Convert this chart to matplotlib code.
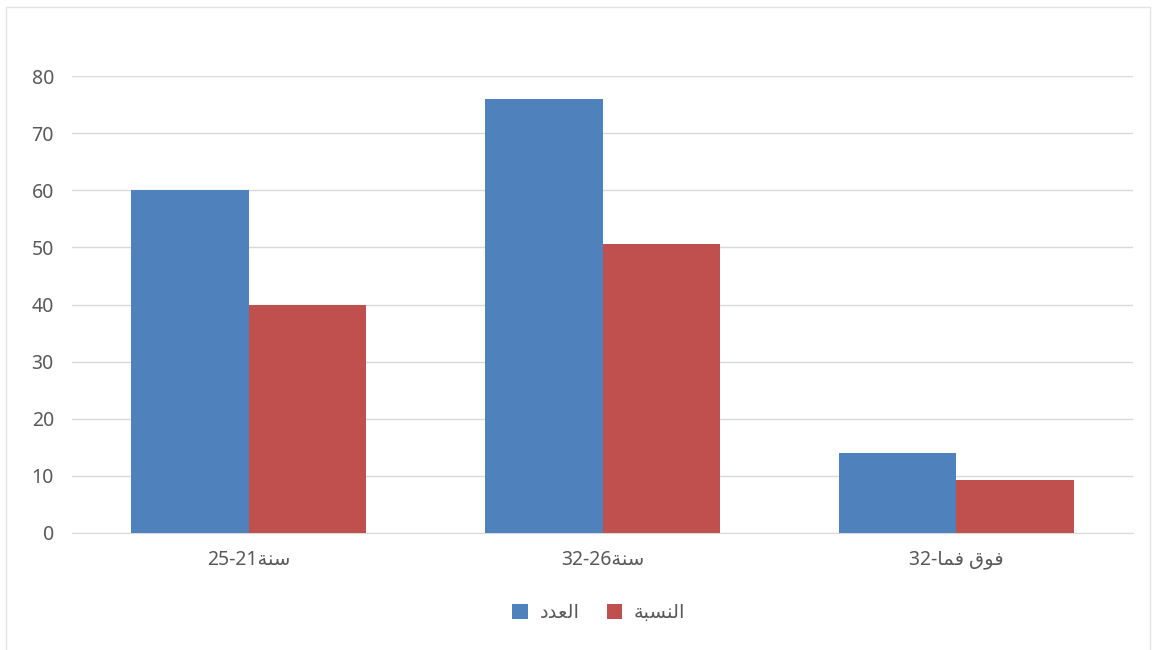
import matplotlib.pyplot as plt
import numpy as np
from matplotlib.patches import Rectangle

# Arabic letter forms: isolated, final, initial, medial (None = does not join forward)
FORMS = {
    "ا": ("\uFE8D", "\uFE8E", None, None),
    "ل": ("\uFEDD", "\uFEDE", "\uFEDF", "\uFEE0"),
    "ع": ("\uFEC9", "\uFECA", "\uFECB", "\uFECC"),
    "د": ("\uFEA9", "\uFEAA", None, None),
    "ن": ("\uFEE5", "\uFEE6", "\uFEE7", "\uFEE8"),
    "س": ("\uFEB1", "\uFEB2", "\uFEB3", "\uFEB4"),
    "ب": ("\uFE8F", "\uFE90", "\uFE91", "\uFE92"),
    "ة": ("\uFE93", "\uFE94", None, None),
    "ف": ("\uFED1", "\uFED2", "\uFED3", "\uFED4"),
    "م": ("\uFEE1", "\uFEE2", "\uFEE3", "\uFEE4"),
    "و": ("\uFEED", "\uFEEE", None, None),
    "ق": ("\uFED5", "\uFED6", "\uFED7", "\uFED8"),
}


def shape(word):
    # matplotlib has no Arabic shaping, so join letters by hand and reverse
    out = []
    for i, ch in enumerate(word):
        prev_joins = i > 0 and FORMS[word[i - 1]][2] is not None
        next_joins = i < len(word) - 1 and FORMS[ch][2] is not None
        iso, fin, ini, med = FORMS[ch]
        if prev_joins and next_joins:
            out.append(med)
        elif prev_joins:
            out.append(fin)
        elif next_joins:
            out.append(ini)
        else:
            out.append(iso)
    return "".join(reversed(out))


# data
categories = ["25-21" + shape("سنة"), "32-26" + shape("سنة"),
              "32-" + shape("فما") + " " + shape("فوق")]
series_names = [shape("العدد"), shape("النسبة")]
count = [60, 76, 14]
percent = [40, 50.67, 9.33]
yticks = [0, 10, 20, 30, 40, 50, 60, 70, 80]

blue = "#4F81BD"
red = "#C0504D"
grey = "#595959"
fonts = ["Noto Sans", "DejaVu Sans"]

fig = plt.figure(figsize=(11.53, 6.5), dpi=100)
ax = fig.add_axes([0.0624, 0.18, 0.9203, 0.703])

x = np.arange(len(categories))
w = 0.332
ax.bar(x - w / 2, count, w, color=blue, label=series_names[0], zorder=3)
ax.bar(x + w / 2, percent, w, color=red, label=series_names[1], zorder=3)

ax.set_xlim(-0.5, 2.5)
ax.set_ylim(0, 80)
ax.set_yticks(yticks)
ax.set_xticks(x)
ax.set_xticklabels(categories, family=fonts, fontsize=14, color=grey)
for lab in ax.get_yticklabels():
    lab.set_family(fonts)
    lab.set_fontsize(14)
    lab.set_color(grey)

ax.grid(axis="y", color="#D9D9D9", linewidth=1, zorder=0)
for s in ["top", "right", "left"]:
    ax.spines[s].set_visible(False)
ax.spines["bottom"].set_color("#D9D9D9")
ax.tick_params(length=0)
ax.tick_params(axis="x", pad=12)
ax.tick_params(axis="y", pad=13)

leg = ax.legend(loc="center", bbox_to_anchor=(0.4965, -0.175), ncol=2,
                frameon=False, prop={"family": fonts, "size": 14},
                handlelength=0.8, handleheight=0.8, handletextpad=0.6,
                columnspacing=1.4)
for t in leg.get_texts():
    t.set_color(grey)

# faint chart-area border
fig.patches.append(Rectangle((6 / 1153, -0.01), 1144 / 1153, 1 - 7 / 650 + 0.01,
                             transform=fig.transFigure, fill=False,
                             edgecolor="#E3E3E3", linewidth=1))

fig.savefig("out.png", dpi=100)
